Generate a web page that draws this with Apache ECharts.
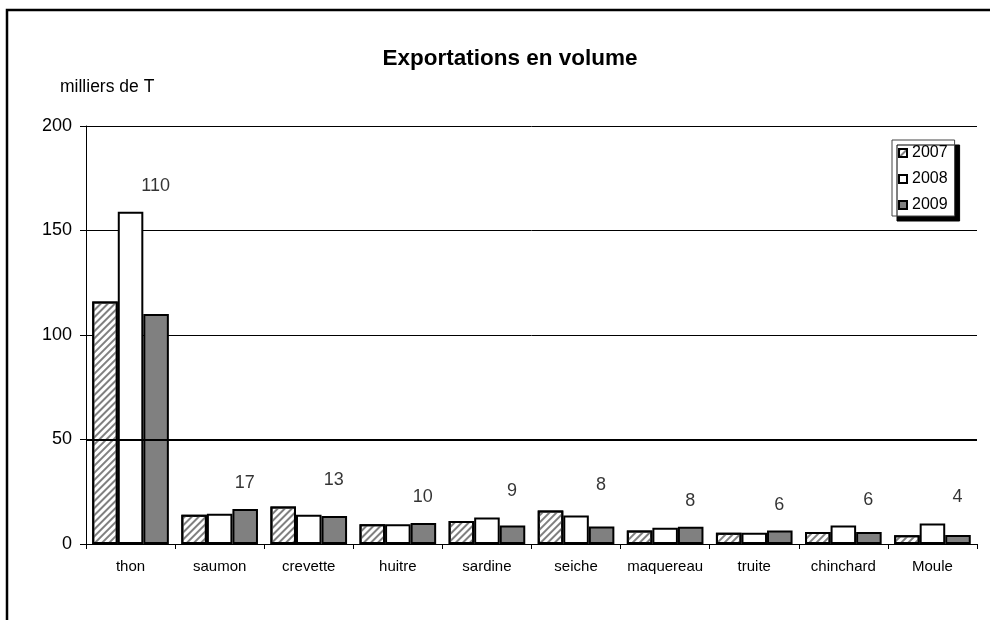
<!DOCTYPE html>
<html>
<head>
<meta charset="utf-8">
<script src="https://cdn.jsdelivr.net/npm/echarts@6/dist/echarts.min.js"></script>
<style>html,body{margin:0;padding:0;background:#fff}#c{width:990px;height:620px}</style>
</head>
<body>
<div id="c"></div>
<script>
var categories = ['thon','saumon','crevette','huitre','sardine','seiche','maquereau','truite','chinchard','Moule'];
var v2007 = [116, 14, 18, 9.5, 11, 16, 6.4, 5.4, 5.8, 4.2];
var v2008 = [159, 14.5, 14, 9.5, 12.7, 13.6, 7.8, 5.4, 8.8, 9.8];
var v2009 = [110, 16.8, 13.4, 10, 8.8, 8.4, 8.3, 6.4, 5.7, 4.3];
var yTicks = [0, 50, 100, 150, 200];

var groupMax = categories.map(function (c, i) { return Math.max(v2007[i], v2008[i], v2009[i]); });
var font = 'Liberation Sans, Arial, sans-serif';
var chart = echarts.init(document.getElementById('c'));
var border = {borderColor: '#000', borderWidth: 2};
chart.setOption({
  animation: false,
  backgroundColor: '#fff',
  textStyle: {fontFamily: font, color: '#000'},
  title: {text: 'Exportations en volume', left: 505, textAlign: 'center', top: 42,
    textStyle: {fontFamily: font, fontSize: 22.5, fontWeight: 'bold', color: '#000'}},
  graphic: [
    {type: 'rect', shape: {x: 7, y: 10, width: 1100, height: 800}, style: {fill: null, stroke: '#000', lineWidth: 2.5}, silent: true},
    {type: 'text', left: 60, top: 78, style: {text: 'milliers de T', fontFamily: font, fontSize: 17.5, fill: '#000'}}
  ],
  legend: {
    orient: 'vertical', left: 892, top: 140, padding: [5, 7, 3, 6], itemGap: 10,
    itemWidth: 8, itemHeight: 8, icon: 'rect', backgroundColor: '#fff', borderColor: '#444', borderWidth: 1,
    shadowColor: '#000', shadowOffsetX: 5, shadowOffsetY: 5, shadowBlur: 0,
    textStyle: {fontFamily: font, fontSize: 16, color: '#000'},
    data: ['2007', '2008', '2009']
  },
  grid: {left: 86, right: 13, top: 126, bottom: 76},
  xAxis: {
    type: 'category', data: categories,
    axisLine: {lineStyle: {color: '#000', width: 1}},
    axisTick: {show: true, length: 5, lineStyle: {color: '#000'}},
    axisLabel: {fontFamily: font, fontSize: 15, color: '#000', margin: 15, interval: 0}
  },
  yAxis: {
    type: 'value', min: 0, max: 200, interval: 50,
    axisLine: {show: true, lineStyle: {color: '#000'}},
    axisTick: {show: true, length: 6, lineStyle: {color: '#000'}},
    axisLabel: {fontFamily: font, fontSize: 18, color: '#000', margin: 14,
      formatter: function (v) { return yTicks.indexOf(v) >= 0 ? String(v) : ''; }},
    splitLine: {lineStyle: {color: '#000', width: 1}}
  },
  series: [
    {name: '2007', type: 'bar', data: v2007, barGap: '0%', barCategoryGap: '14%',
      itemStyle: Object.assign({color: '#fff', decal: {symbol: 'rect', dashArrayX: [1, 0], dashArrayY: [1.1, 2.4], rotation: -Math.PI / 4, color: '#808080', symbolSize: 1}}, border)},
    {name: '2008', type: 'bar', data: v2008, itemStyle: Object.assign({color: '#fff'}, border)},
    {name: '2009', type: 'bar', data: v2009, itemStyle: Object.assign({color: '#808080'}, border),
      markLine: {silent: true, symbol: 'none', label: {show: false}, lineStyle: {color: '#000', width: 2, type: 'solid'}, data: [{yAxis: 50}]}},
    {name: 'labels', type: 'scatter', data: groupMax, symbolSize: 0, silent: true,
      label: {show: true, position: 'top', distance: 17, offset: [25, 0], fontFamily: font, fontSize: 18, color: '#000',
        formatter: function (p) { return String(Math.round(v2009[p.dataIndex])); }}}
  ]
});
</script>
</body>
</html>
